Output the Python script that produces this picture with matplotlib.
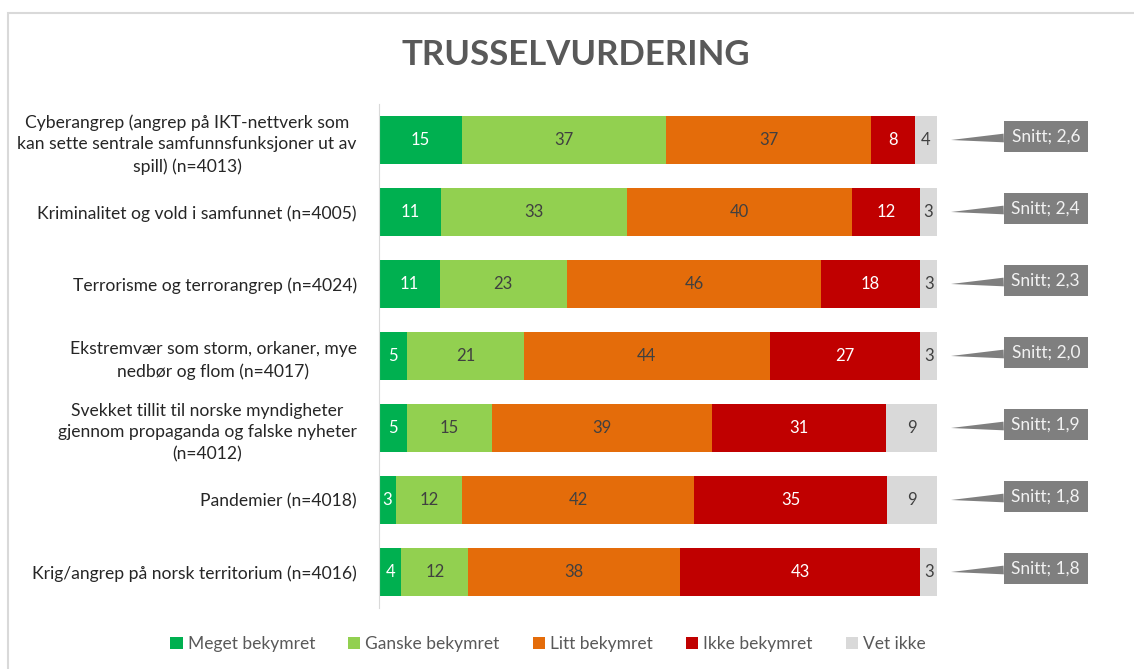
import matplotlib.pyplot as plt
import matplotlib.patches as mpatches
import numpy as np

plt.rcParams['font.family'] = ['Lato', 'DejaVu Sans']

categories = [
    'Cyberangrep (angrep på IKT-nettverk som\nkan sette sentrale samfunnsfunksjoner ut av\nspill) (n=4013)',
    'Kriminalitet og vold i samfunnet (n=4005)',
    'Terrorisme og terrorangrep (n=4024)',
    'Ekstremvær som storm, orkaner, mye\nnedbør og flom (n=4017)',
    'Svekket tillit til norske myndigheter\ngjennom propaganda og falske nyheter\n(n=4012)',
    'Pandemier (n=4018)',
    'Krig/angrep på norsk territorium (n=4016)',
]
series_names = ['Meget bekymret', 'Ganske bekymret', 'Litt bekymret', 'Ikke bekymret', 'Vet ikke']
meget = [15, 11, 11, 5, 5, 3, 4]
ganske = [37, 33, 23, 21, 15, 12, 12]
litt = [37, 40, 46, 44, 39, 42, 38]
ikke = [8, 12, 18, 27, 31, 35, 43]
vet_ikke = [4, 3, 3, 3, 9, 9, 3]
snitt = ['2,6', '2,4', '2,3', '2,0', '1,9', '1,8', '1,8']

colors = ['#00b050', '#92d050', '#e46c0a', '#c00000', '#d9d9d9']
text_colors = ['white', '#404040', '#404040', 'white', '#404040']

fig = plt.figure(figsize=(11.34, 6.69), dpi=100)
ax = fig.add_axes([379 / 1134, 61 / 669, 558 / 1134, 504 / 669])

data = np.array([meget, ganske, litt, ikke, vet_ikke], dtype=float)
totals = data.sum(axis=0)
shares = data / totals * 100
y = np.arange(len(categories))

left = np.zeros(len(categories))
for k in range(len(series_names)):
    bars = ax.barh(y, shares[k], left=left, height=0.667, color=colors[k],
                   label=series_names[k], edgecolor='none')
    for i, b in enumerate(bars):
        ax.text(left[i] + shares[k][i] / 2, y[i], f'{int(data[k][i])}',
                ha='center', va='center', fontsize=12, color=text_colors[k])
    left += shares[k]

# callouts with average score
for i, s in enumerate(snitt):
    ax.annotate(f'Snitt; {s}', xy=(102.5, y[i]), xytext=(119.5, y[i] - 0.05),
                ha='center', va='center', fontsize=12.5, color='#f2f2f2',
                annotation_clip=False,
                bbox=dict(boxstyle='square,pad=0.45', fc='#7f7f7f', ec='none'),
                arrowprops=dict(arrowstyle='wedge,tail_width=0.5,shrink_factor=0.5',
                                fc='#7f7f7f', ec='none', shrinkA=0, shrinkB=0))

ax.set_xlim(0, 100)
ax.set_ylim(len(categories) - 0.5, -0.5)
ax.set_yticks(y)
ax.set_yticklabels(categories, fontsize=12.6, color='#262626')
for t in ax.get_yticklabels():
    t.set_multialignment('center')
    t.set_linespacing(1.45)
ax.tick_params(axis='y', length=0, pad=16)
ax.set_xticks([])
for side in ['top', 'right', 'bottom']:
    ax.spines[side].set_visible(False)
ax.spines['left'].set_color('#d9d9d9')

fig.text(576 / 1134, 1 - 55 / 669, 'TRUSSELVURDERING', ha='center', va='center',
         fontsize=25, fontweight='bold', color='#595959')

fig.legend(loc='center', bbox_to_anchor=(548 / 1134, 1 - 644 / 669), ncol=5,
           frameon=False, fontsize=12.5, handlelength=0.7, handleheight=0.7,
           handletextpad=0.3, columnspacing=1.9, labelcolor='#595959')

fig.patches.append(mpatches.Rectangle((8 / 1134, -0.1), 1.2, 1.1 - 13 / 669,
                                      transform=fig.transFigure, fill=False,
                                      ec='#d9d9d9', lw=1.5))

fig.savefig('out.png', dpi=100)
